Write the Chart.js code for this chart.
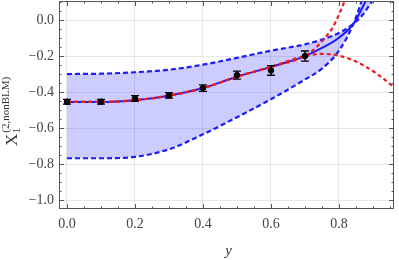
<!DOCTYPE html>
<html>
<head>
<meta charset="utf-8">
<script src="https://cdn.jsdelivr.net/npm/chart.js@4"></script>
<style>
  html, body { margin: 0; padding: 0; background: #fff; }
  #wrap { width: 399px; height: 260px; }
</style>
</head>
<body>
<div id="wrap"><canvas id="chart" width="399" height="260"></canvas></div>
<script>
// lattice points with error bars
const ptX = [0, 0.1, 0.2, 0.3, 0.4, 0.5, 0.6, 0.7];
const ptY = [-0.454, -0.454, -0.436, -0.418, -0.378, -0.306, -0.280, -0.200];
const ptErr = [0.013, 0.013, 0.016, 0.015, 0.018, 0.022, 0.027, 0.028];

// central fit (blue solid)
const fitX = [0, 0.1, 0.2, 0.3, 0.4, 0.5, 0.6, 0.7, 0.75, 0.8, 0.843, 0.88, 0.9];
const fitY = [-0.455, -0.455, -0.445, -0.42, -0.378, -0.315, -0.26, -0.2, -0.155, -0.098, -0.02, 0.11, 0.18];

// error band (blue dashed)
const bandX = [0, 0.1, 0.2, 0.3, 0.4, 0.5, 0.6, 0.7, 0.75, 0.8, 0.843, 0.87, 0.9];
const bandHi = [-0.30, -0.298, -0.29, -0.276, -0.248, -0.21, -0.17, -0.135, -0.108, -0.072, -0.02, 0.03, 0.111];
const bandLo = [-0.768, -0.768, -0.76, -0.718, -0.635, -0.54, -0.44, -0.33, -0.27, -0.17, -0.02, 0.125, 0.3];

// truncated expansions (red dashed)
const upX = [0, 0.1, 0.2, 0.3, 0.4, 0.5, 0.6, 0.7, 0.725, 0.754, 0.783, 0.8, 0.818, 0.83];
const upY = [-0.455, -0.455, -0.445, -0.42, -0.378, -0.315, -0.26, -0.2, -0.165, -0.11, -0.037, 0.03, 0.111, 0.17];
const downX = [0, 0.1, 0.2, 0.3, 0.4, 0.5, 0.6, 0.7, 0.75, 0.783, 0.83, 0.88, 0.92, 0.96];
const downY = [-0.455, -0.455, -0.445, -0.42, -0.378, -0.315, -0.26, -0.2, -0.188, -0.192, -0.215, -0.26, -0.31, -0.37];

const xTicks = [0, 0.2, 0.4, 0.6, 0.8];
const yTicks = [-1.0, -0.8, -0.6, -0.4, -0.2, 0.0];

const pts = (xs, ys) => xs.map((x, i) => ({ x: x, y: ys[i] }));
const fmt = v => (v < -1e-9 ? '\u2212' : '') + Math.abs(v).toFixed(1);
const SERIF = '"Liberation Serif", "DejaVu Serif", serif';

// error bars on the lattice points
const errorBars = {
  id: 'errorBars',
  afterDatasetsDraw(chart) {
    const { ctx, scales: { x, y } } = chart;
    ctx.save();
    ctx.strokeStyle = '#000';
    ctx.lineWidth = 1.4;
    ptX.forEach((v, i) => {
      const px = x.getPixelForValue(v);
      const a = y.getPixelForValue(ptY[i] + ptErr[i]);
      const b = y.getPixelForValue(ptY[i] - ptErr[i]);
      ctx.beginPath();
      ctx.moveTo(px, a); ctx.lineTo(px, b);
      ctx.moveTo(px - 4, a); ctx.lineTo(px + 4, a);
      ctx.moveTo(px - 4, b); ctx.lineTo(px + 4, b);
      ctx.stroke();
    });
    ctx.restore();
  }
};

// mathematica style frame with ticks on all four sides + axis titles
const frame = {
  id: 'frame',
  afterDraw(chart) {
    const { ctx, chartArea: a, scales: { x, y } } = chart;
    ctx.save();
    ctx.strokeStyle = '#555';
    ctx.lineWidth = 1;
    ctx.strokeRect(a.left + 0.5, a.top + 0.5, a.right - a.left - 1, a.bottom - a.top - 1);
    ctx.beginPath();
    for (let k = 0; k <= 19; k++) {
      const v = k * 0.05;
      const px = Math.round(x.getPixelForValue(v)) + 0.5;
      if (px < a.left || px > a.right) continue;
      const len = k % 4 === 0 ? 5 : 2.5;
      ctx.moveTo(px, a.bottom); ctx.lineTo(px, a.bottom - len);
      ctx.moveTo(px, a.top); ctx.lineTo(px, a.top + len);
    }
    for (let k = -21; k <= 2; k++) {
      const v = k * 0.05;
      const py = Math.round(y.getPixelForValue(v)) + 0.5;
      if (py < a.top || py > a.bottom) continue;
      const len = k % 4 === 0 ? 5 : 2.5;
      ctx.moveTo(a.left, py); ctx.lineTo(a.left + len, py);
      ctx.moveTo(a.right, py); ctx.lineTo(a.right - len, py);
    }
    ctx.stroke();

    // x title
    ctx.fillStyle = '#333';
    ctx.font = 'italic 15px ' + SERIF;
    ctx.textAlign = 'center';
    ctx.textBaseline = 'alphabetic';
    ctx.fillText('y', (a.left + a.right) / 2 + 2, 255);

    // y title, rotated
    ctx.translate(17, 146);
    ctx.rotate(-Math.PI / 2);
    ctx.textAlign = 'left';
    ctx.font = '17px ' + SERIF;
    ctx.fillText('X', 0, 0);
    const w = ctx.measureText('X').width;
    ctx.font = '11px ' + SERIF;
    ctx.fillText('1', w + 0.5, 3);
    ctx.fillText('(2,nonBLM)', w + 1, -8);
    ctx.restore();
  }
};

new Chart(document.getElementById('chart'), {
  type: 'scatter',
  data: {
    datasets: [
      {
        data: pts(ptX, ptY),
        showLine: false,
        pointRadius: 2.8,
        pointBackgroundColor: '#000',
        pointBorderColor: '#000',
        order: 0
      },
      {
        data: pts(upX, upY),
        showLine: true,
        borderColor: '#ee1c1c',
        borderWidth: 2.2,
        borderDash: [4, 3],
        pointRadius: 0,
        cubicInterpolationMode: 'monotone',
        order: 1
      },
      {
        data: pts(downX, downY),
        showLine: true,
        borderColor: '#ee1c1c',
        borderWidth: 2.2,
        borderDash: [4, 3],
        pointRadius: 0,
        cubicInterpolationMode: 'monotone',
        order: 1
      },
      {
        data: pts(fitX, fitY),
        showLine: true,
        borderColor: '#1a1aff',
        borderWidth: 2,
        pointRadius: 0,
        cubicInterpolationMode: 'monotone',
        order: 2
      },
      {
        data: pts(bandX, bandHi),
        showLine: true,
        borderColor: '#1a1aff',
        borderWidth: 2.2,
        borderDash: [5, 3],
        pointRadius: 0,
        cubicInterpolationMode: 'monotone',
        order: 3
      },
      {
        data: pts(bandX, bandLo),
        showLine: true,
        borderColor: '#1a1aff',
        borderWidth: 2.2,
        borderDash: [5, 3],
        pointRadius: 0,
        cubicInterpolationMode: 'monotone',
        fill: '-1',
        backgroundColor: 'rgba(0, 0, 255, 0.2)',
        order: 4
      }
    ]
  },
  options: {
    responsive: false,
    animation: false,
    devicePixelRatio: 1,
    layout: { autoPadding: false, padding: { top: 1, right: 5, left: 0, bottom: 0 } },
    plugins: {
      legend: { display: false },
      tooltip: { enabled: false },
      filler: { propagate: false }
    },
    scales: {
      x: {
        type: 'linear',
        min: -0.0235,
        max: 0.962,
        afterBuildTicks: s => { s.ticks = xTicks.map(v => ({ value: v })); },
        afterFit: s => { s.height = 51; s.paddingLeft = 0; s.paddingRight = 0; },
        ticks: {
          callback: v => fmt(v),
          font: { family: SERIF, size: 14 },
          color: '#444',
          padding: 7,
          maxRotation: 0,
          autoSkip: false
        },
        grid: { color: 'rgba(0,0,0,0.09)', drawTicks: false },
        border: { display: false }
      },
      y: {
        type: 'linear',
        min: -1.05,
        max: 0.106,
        afterBuildTicks: s => { s.ticks = yTicks.map(v => ({ value: v })); },
        afterFit: s => { s.width = 59; s.paddingTop = 0; s.paddingBottom = 0; },
        ticks: {
          callback: v => fmt(v),
          font: { family: SERIF, size: 14 },
          color: '#444',
          padding: 5,
          autoSkip: false
        },
        grid: { color: 'rgba(0,0,0,0.09)', drawTicks: false },
        border: { display: false }
      }
    }
  },
  plugins: [errorBars, frame]
});
</script>
</body>
</html>
